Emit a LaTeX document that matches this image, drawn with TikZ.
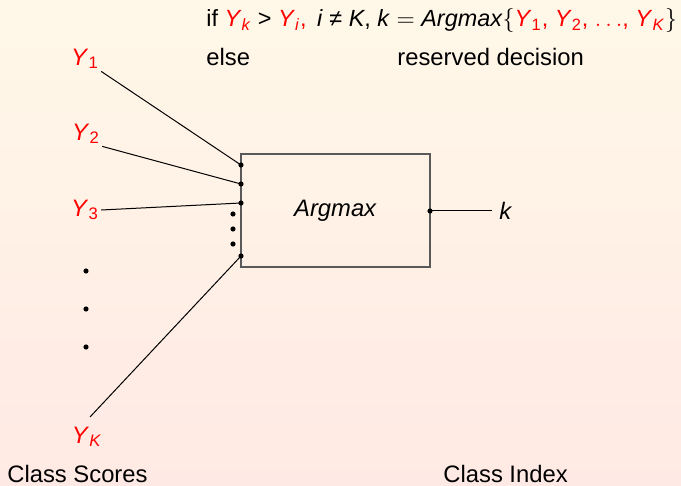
\documentclass[tikz,border=0pt]{standalone}
\usepackage{fontspec}
\setmainfont{Liberation Sans}
\usepackage{xcolor}
\usetikzlibrary{positioning,calc}
\definecolor{bgtop}{HTML}{FFF8E8}
\definecolor{bgbot}{HTML}{FFE9E4}
\newcommand{\ysc}[1]{\textcolor{red}{\textit{Y}\textsubscript{#1}}}

\begin{document}
\begin{tikzpicture}[
  x=0.5pt, y=-0.5pt,
  every node/.style={font=\fontsize{11.9}{14}\selectfont},
  lbl/.style={inner sep=1pt},
  pin/.style={circle, fill=black, inner sep=0pt, minimum size=2.6pt},
  wire/.style={line width=0.5pt}]
% background
\fill[top color=bgtop, bottom color=bgbot] (0,0) rectangle (681,486);
\useasboundingbox (0,0) rectangle (681,486);
% decision rule
\node[anchor=base west, inner sep=0pt, font=\fontsize{11.7}{14}\selectfont] (rule) at (206,27)
  {if \ysc{\textit{k}} > \ysc{\textit{i}}\textcolor{red}{,}\hspace{0.45em}\textit{i} ≠ \textit{K}, \textit{k} $=$ \textit{Argmax}$\{$\textcolor{red}{\ysc{1}, \ysc{2}, $\ldots$, \ysc{\textit{K}}}$\}$};
\node[anchor=base west, inner sep=0pt] (else) at (206,66) {else};
\node[anchor=base west, inner sep=0pt] (resv) at (397,66) {reserved decision};
% scores
\node[lbl] (y1) at (85,59) {\ysc{1}};
\node[lbl] (y2) at (86,134) {\ysc{2}};
\node[lbl] (y3) at (85,210) {\ysc{3}};
\node[lbl] (yk) at (87,437) {\ysc{\textit{K}}};
\foreach \yy in {271,309,347}
  \node[pin] at (86,\yy) {};
% argmax box
\node[draw=black!65, line width=0.7pt, minimum width=94.5pt, minimum height=56.5pt,
      inner sep=0pt] (amax) at (335.5,210.5) {\textit{Argmax}};
\node[pin] (in1) at (241,165) {};
\node[pin] (in2) at (241,184) {};
\node[pin] (in3) at (241,203) {};
\node[pin] (in4) at (241,256) {};
\foreach \yy in {214,229,244}
  \node[pin] at (233,\yy) {};
\node[pin] (out) at (430,211) {};
\coordinate (ykend) at (90,417);
\draw[wire] (y1.south east) -- (in1.center);
\draw[wire] (y2.south east) -- (in2.center);
\draw[wire] (y3.east) -- (in3.center);
\draw[wire] (ykend) -- (in4.center);
\node[anchor=west, inner sep=0pt, inner xsep=3.5pt] (kk) at (492,211) {\textit{k}};
\draw[wire] (out.center) -- (kk.west);
% captions
\node[anchor=base west, inner sep=0pt] (cs) at (7,483) {Class Scores};
\node[anchor=base west, inner sep=0pt] (ci) at (443,483) {Class Index};
\end{tikzpicture}
\end{document}
